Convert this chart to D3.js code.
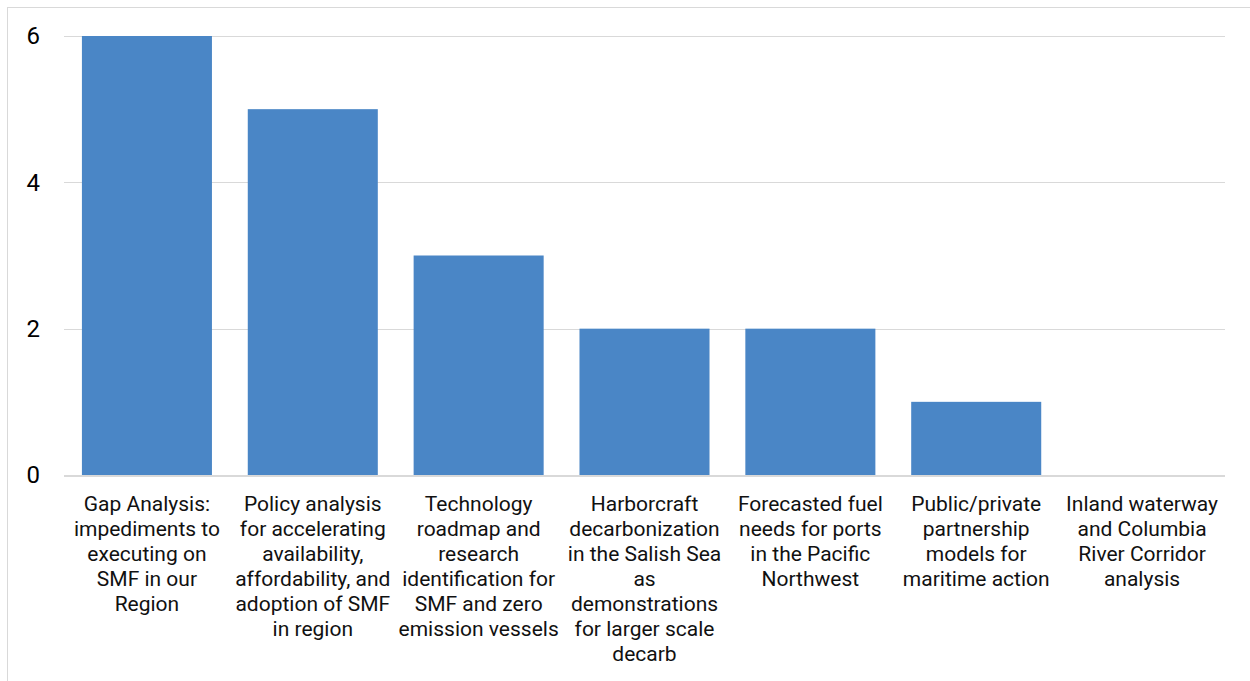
<!DOCTYPE html>
<html>
<head>
<meta charset="utf-8">
<script src="https://cdn.jsdelivr.net/npm/d3@7"></script>
<style>
  html, body { margin: 0; padding: 0; background: #fff; }
  svg { display: block; }
  text { font-family: Roboto, "Noto Sans", sans-serif; }
</style>
</head>
<body>
<svg id="chart" width="1250" height="681"></svg>
<script>
// Category labels, with line breaks where the axis wraps them
const categories = [
  "Gap Analysis:\nimpediments to\nexecuting on\nSMF in our\nRegion",
  "Policy analysis\nfor accelerating\navailability,\naffordability, and\nadoption of SMF\nin region",
  "Technology\nroadmap and\nresearch\nidentification for\nSMF and zero\nemission vessels",
  "Harborcraft\ndecarbonization\nin the Salish Sea\nas\ndemonstrations\nfor larger scale\ndecarb",
  "Forecasted fuel\nneeds for ports\nin the Pacific\nNorthwest",
  "Public/private\npartnership\nmodels for\nmaritime action",
  "Inland waterway\nand Columbia\nRiver Corridor\nanalysis"
];
const values = [6, 5, 3, 2, 2, 1, 0];
const yTicks = [0, 2, 4, 6];

const svg = d3.select("#chart");
const W = 1250, H = 681;
const plot = { left: 64, right: 1225, top: 36, bottom: 475 };

// outer frame
svg.append("rect")
  .attr("x", 7.5).attr("y", 7.5)
  .attr("width", W).attr("height", H)
  .attr("fill", "none")
  .attr("stroke", "#d9d9d9")
  .attr("stroke-width", 1);

const x = d3.scaleBand()
  .domain(d3.range(categories.length))
  .range([plot.left, plot.right])
  .paddingInner(0.216)
  .paddingOuter(0.108);

const y = d3.scaleLinear()
  .domain([0, 6])
  .range([plot.bottom, plot.top]);

// gridlines
svg.append("g")
  .selectAll("line")
  .data(yTicks.filter(t => t !== 0))
  .join("line")
  .attr("x1", plot.left).attr("x2", plot.right)
  .attr("y1", d => Math.round(y(d)) + 0.5)
  .attr("y2", d => Math.round(y(d)) + 0.5)
  .attr("stroke", "#d9d9d9")
  .attr("stroke-width", 1);

// bars
svg.append("g")
  .selectAll("rect")
  .data(values)
  .join("rect")
  .attr("x", (d, i) => x(i))
  .attr("width", x.bandwidth())
  .attr("y", d => y(d))
  .attr("height", d => y(0) - y(d))
  .attr("fill", "#4a86c6");

// baseline
svg.append("line")
  .attr("x1", plot.left).attr("x2", plot.right)
  .attr("y1", y(0) + 1).attr("y2", y(0) + 1)
  .attr("stroke", "#d9d9d9")
  .attr("stroke-width", 2);

// y axis labels
const yAxis = d3.axisLeft(y).tickValues(yTicks).tickSize(0).tickPadding(0).tickFormat(d3.format("d"));
const gy = svg.append("g")
  .attr("transform", `translate(${40},0)`)
  .call(yAxis);
gy.select(".domain").remove();
gy.selectAll("text")
  .attr("font-size", 24)
  .attr("fill", "#000")
  .attr("font-family", "Roboto, sans-serif");

// category labels
const xAxis = d3.axisBottom(x).tickSize(0).tickFormat("");
const gx = svg.append("g")
  .attr("transform", `translate(0,${plot.bottom})`)
  .call(xAxis);
gx.select(".domain").remove();
gx.selectAll(".tick").each(function (d) {
  const t = d3.select(this).append("text")
    .attr("text-anchor", "middle")
    .attr("font-size", 21)
    .attr("fill", "#111")
    .attr("font-family", "Roboto, sans-serif");
  categories[d].split("\n").forEach((line, k) => {
    t.append("tspan").attr("x", 0).attr("y", 36 + k * 25).text(line);
  });
});
</script>
</body>
</html>
